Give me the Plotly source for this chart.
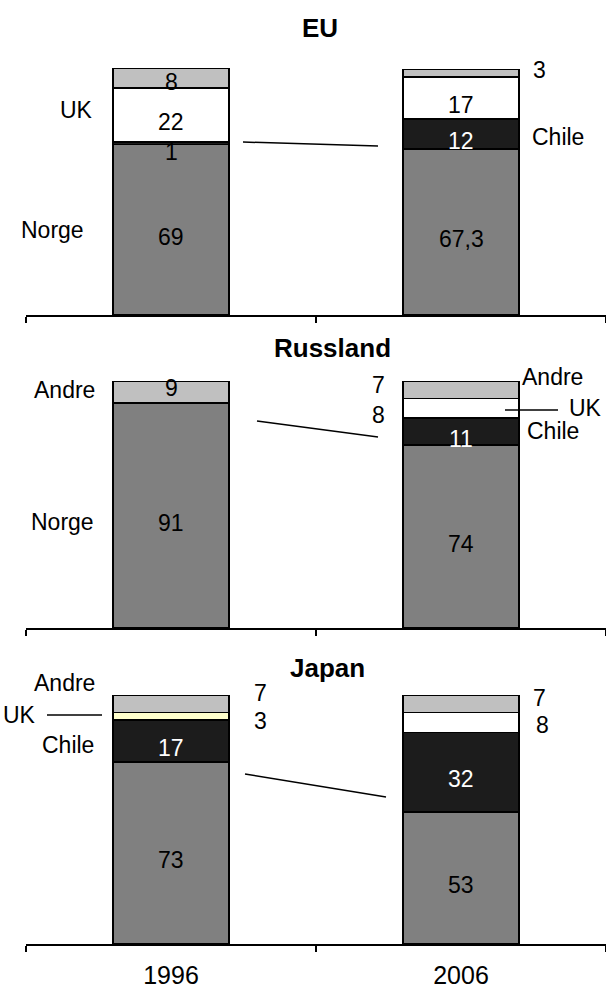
import plotly.graph_objects as go

# Market shares (%) of salmon imports by supplier country
years = ["1996", "2006"]
panels = ["EU", "Russland", "Japan"]

norge = {"EU": [69, 67.3], "Russland": [91, 74], "Japan": [73, 53]}
chile = {"EU": [1, 12], "Russland": [0, 11], "Japan": [17, 32]}
uk = {"EU": [22, 17], "Russland": [0, 8], "Japan": [3, 8]}
andre = {"EU": [8, 3], "Russland": [9, 7], "Japan": [7, 7]}

W, H = 606, 988
FONT = "Liberation Sans, Arial, sans-serif"


def px(x):
    return x / W


def py(y):
    return 1 - y / H


series = [
    ("Norge", norge, "#808080", "black"),
    ("Chile", chile, "#1c1c1c", "white"),
    ("UK", uk, "#ffffff", "black"),
    ("Andre", andre, "#c0c0c0", "black"),
]

# vertical pixel extent of each panel's 0..100 scale (bottom, top)
panel_px = {"EU": (315, 68), "Russland": (628, 381), "Japan": (944, 695)}

# value labels placed beside the bar instead of inside: (xshift, yshift)
label_offsets = {
    ("EU", "Andre", 0): (0, -4),
    ("EU", "Chile", 0): (0, -9),
    ("EU", "Andre", 1): (78, 3),
    ("Russland", "Andre", 0): (0, 4),
    ("Russland", "Andre", 1): (-83, 5),
    ("Russland", "UK", 1): (-83, -7),
    ("Japan", "Andre", 0): (89, 11),
    ("Japan", "UK", 0): (89, -5),
    ("Japan", "Andre", 1): (78, 6),
    ("Japan", "UK", 1): (81, -3),
}

fig = go.Figure()
annotations = []
layout_axes = {}

for i, p in enumerate(panels):
    sfx = "" if i == 0 else str(i + 1)
    xa, ya = "x" + sfx, "y" + sfx
    base = [0.0, 0.0]
    for name, data, color, tcolor in series:
        vals = data[p]
        colors = [color, color]
        if name == "UK" and p == "Japan":
            colors[0] = "#ffffcc"
        fig.add_trace(go.Bar(
            x=years, y=[v if v else None for v in vals],
            marker=dict(color=colors, line=dict(color="black", width=1.5)),
            xaxis=xa, yaxis=ya, showlegend=False, hoverinfo="skip",
        ))
        for j, v in enumerate(vals):
            if not v:
                continue
            dx, dy = label_offsets.get((p, name, j), (0, -7))
            col = tcolor if dx == 0 else "black"
            if (p, name, j) == ("EU", "Chile", 0):
                col = "black"
            # category axes take the category index for annotation positions
            annotations.append(dict(
                x=j, y=base[j] + v / 2, xref=xa, yref=ya,
                text=f"{v:g}".replace(".", ","), showarrow=False,
                xshift=dx, yshift=dy,
                font=dict(family=FONT, size=23, color=col),
            ))
            base[j] += v

    bot, top = panel_px[p]
    layout_axes["xaxis" + sfx] = dict(
        domain=[px(26), 1], type="category", range=[-0.5, 1.5],
        anchor=ya, showline=True, linecolor="black", linewidth=1.5,
        ticks="outside", tickson="boundaries", ticklen=6, tickcolor="black",
        tickwidth=1.5, showgrid=False, zeroline=False,
        showticklabels=(p == "Japan"),
        tickfont=dict(family=FONT, size=25, color="black"),
        ticklabelstandoff=8,
    )
    layout_axes["yaxis" + sfx] = dict(
        domain=[py(bot), py(top)], range=[0, 100], anchor=xa,
        visible=False, fixedrange=True,
    )

# panel titles
for name, (x, y) in {"EU": (320, 28), "Russland": (332, 348), "Japan": (327, 668)}.items():
    annotations.append(dict(
        x=px(x), y=py(y), xref="paper", yref="paper", text=f"<b>{name}</b>",
        showarrow=False, xanchor="center", yanchor="middle",
        font=dict(family=FONT, size=26, color="black"),
    ))

# series name labels
series_labels = [
    ("UK", 76, 110), ("Norge", 52, 230), ("Chile", 558, 137),
    ("Andre", 64, 390), ("Norge", 62, 522), ("Andre", 552, 377),
    ("UK", 585, 408), ("Chile", 553, 431),
    ("Andre", 64, 683), ("UK", 20, 715), ("Chile", 68, 745),
]
for text, x, y in series_labels:
    annotations.append(dict(
        x=px(x), y=py(y), xref="paper", yref="paper", text=text,
        showarrow=False, xanchor="center", yanchor="middle",
        font=dict(family=FONT, size=23, color="black"),
    ))

# connector and leader lines
lines = [
    (243, 142, 378, 146),
    (257, 421, 378, 437),
    (245, 774, 386, 797),
    (505, 410, 558, 410),
    (47, 715, 102, 715),
]
shapes = [
    dict(type="line", xref="paper", yref="paper",
         x0=px(x0), y0=py(y0), x1=px(x1), y1=py(y1),
         line=dict(color="black", width=1.5))
    for x0, y0, x1, y1 in lines
]

fig.update_layout(
    width=W, height=H, margin=dict(l=0, r=0, t=0, b=0),
    barmode="stack", bargap=0.6,
    paper_bgcolor="white", plot_bgcolor="white",
    annotations=annotations, shapes=shapes,
    font=dict(family=FONT, color="black"),
    **layout_axes,
)

fig.write_html("out.html")
